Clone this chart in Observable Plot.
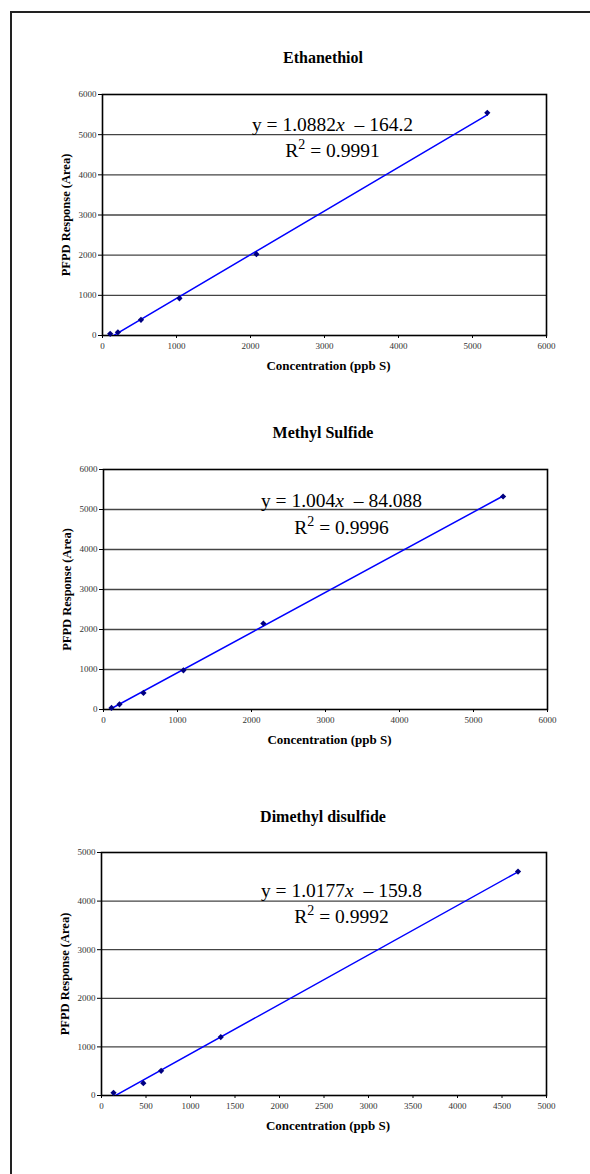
<!DOCTYPE html>
<html><head><meta charset="utf-8">
<script src="https://cdn.jsdelivr.net/npm/d3@7"></script>
<script src="https://cdn.jsdelivr.net/npm/@observablehq/plot@0.6"></script>
<style>
html,body{margin:0;padding:0;background:#fff;overflow:hidden;}
#page{position:relative;width:590px;height:1174px;overflow:hidden;background:#fff;}
#border{position:absolute;left:10px;top:11px;width:700px;height:1300px;border-left:2.5px solid #222;border-top:2.5px solid #222;}
.title{position:absolute;font-family:"Liberation Serif",serif;font-weight:bold;font-size:16px;transform:translate(-50%,-50%);white-space:nowrap;color:#000;}
.chart{position:absolute;left:0;}
</style></head><body><div id="page"><div id="border"></div></div>
<script>
// ---- data ----
const chartTitles = ["Ethanethiol", "Methyl Sulfide", "Dimethyl disulfide"];
const ethanethiolConc = [104, 208, 520, 1040, 2080, 5200];
const ethanethiolResp = [42, 80, 390, 925, 2025, 5545];
const methylSulfideConc = [108, 216, 540, 1080, 2160, 5400];
const methylSulfideResp = [40, 130, 415, 980, 2150, 5325];
const dimethylDisulfideConc = [135, 470, 670, 1340, 4680];
const dimethylDisulfideResp = [56, 254, 508, 1202, 4608];
const slopes = [1.0882, 1.004, 1.0177];
const intercepts = [-164.2, -84.088, -159.8];
const equationTexts = ["y = 1.0882x – 164.2", "y = 1.004x – 84.088", "y = 1.0177x – 159.8"];
const r2Texts = ["R2 = 0.9991", "R2 = 0.9996", "R2 = 0.9992"];
const ticks6000 = [0, 1000, 2000, 3000, 4000, 5000, 6000];
const xTicks5000 = [0, 500, 1000, 1500, 2000, 2500, 3000, 3500, 4000, 4500, 5000];
const yTicks5000 = [0, 1000, 2000, 3000, 4000, 5000];
const xAxisLabel = "Concentration (ppb S)";
const yAxisLabel = "PFPD Response (Area)";

const charts = [
  {title: chartTitles[0], conc: ethanethiolConc, resp: ethanethiolResp, slope: slopes[0], intercept: intercepts[0], eq: equationTexts[0], r2: r2Texts[0], xTicks: ticks6000, yTicks: ticks6000},
  {title: chartTitles[1], conc: methylSulfideConc, resp: methylSulfideResp, slope: slopes[1], intercept: intercepts[1], eq: equationTexts[1], r2: r2Texts[1], xTicks: ticks6000, yTicks: ticks6000},
  {title: chartTitles[2], conc: dimethylDisulfideConc, resp: dimethylDisulfideResp, slope: slopes[2], intercept: intercepts[2], eq: equationTexts[2], r2: r2Texts[2], xTicks: xTicks5000, yTicks: yTicks5000}
];

// ---- layout (pixels) ----
const layouts = [
  {top: 80, ml: 102, mr: 44, mt: 14, ph: 241, titleX: 323, titleY: 58, eqDx: 230, eqDy1: 36.7, eqDy2: 62.7},
  {top: 455, ml: 103, mr: 43, mt: 14, ph: 240, titleX: 323, titleY: 433, eqDx: 238, eqDy1: 37.7, eqDy2: 64},
  {top: 838, ml: 101, mr: 44, mt: 14, ph: 243, titleX: 323, titleY: 817, eqDx: 240, eqDy1: 44.4, eqDy2: 70.7}
];

const page = document.getElementById("page");
const SVGNS = "http://www.w3.org/2000/svg";

charts.forEach((c, i) => {
  const L = layouts[i];
  const mb = 45;
  const points = c.conc.map((x, j) => ({x, y: c.resp[j]}));
  const x0 = d3.min(c.conc), x1 = d3.max(c.conc);
  const trend = [{x: x0, y: c.slope * x0 + c.intercept}, {x: x1, y: c.slope * x1 + c.intercept}];
  const xMax = c.xTicks[c.xTicks.length - 1], yMax = c.yTicks[c.yTicks.length - 1];
  const svg = Plot.plot({
    width: 590,
    height: L.mt + L.ph + mb,
    marginLeft: L.ml, marginRight: L.mr, marginTop: L.mt, marginBottom: mb,
    x: {domain: [0, xMax]},
    y: {domain: [0, yMax]},
    style: {fontFamily: "Liberation Serif, serif", fontSize: "9px", background: "transparent", overflow: "visible", color: "#000"},
    marks: [
      Plot.gridY(c.yTicks.slice(1, -1), {stroke: "#444", strokeOpacity: 1, strokeWidth: 1.3}),
      Plot.frame({stroke: "#000", strokeWidth: 1.6}),
      Plot.axisX(c.xTicks, {tickSize: 3, tickPadding: 4, tickFormat: d3.format("d"), label: null, fill: "#333", stroke: "#000"}),
      Plot.axisY(c.yTicks, {tickSize: 4, tickPadding: 2, tickFormat: d3.format("d"), label: null, fill: "#333", stroke: "#000"}),
      Plot.line(trend, {x: "x", y: "y", stroke: "#0000ff", strokeWidth: 1.5, clip: true}),
      Plot.dot(points, {x: "x", y: "y", symbol: "diamond2", r: 2.8, fill: "#000080", stroke: "none"}),
      Plot.text([c.eq], {text: d => d, frameAnchor: "top-left", dx: L.eqDx, dy: L.eqDy1, lineAnchor: "bottom", textAnchor: "middle", fontSize: 19.5, fill: "#000"}),
      Plot.text([c.r2], {text: d => d, frameAnchor: "top-left", dx: L.eqDx, dy: L.eqDy2, lineAnchor: "bottom", textAnchor: "middle", fontSize: 19.5, fill: "#000"}),
      Plot.text([xAxisLabel], {text: d => d, frameAnchor: "bottom", dx: 4, dy: 30, lineAnchor: "middle", textAnchor: "middle", fontWeight: "bold", fontSize: 13, fill: "#000"}),
      Plot.text([yAxisLabel], {text: d => d, frameAnchor: "left", rotate: -90, dx: -37, lineAnchor: "middle", textAnchor: "middle", fontWeight: "bold", fontSize: 12.5, fill: "#000"})
    ]
  });
  // rich text: italic x in equation, superscript 2 in R²
  svg.querySelectorAll("text").forEach(t => {
    const s = t.textContent;
    if (s === c.eq) {
      const k = s.indexOf("x");
      while (t.firstChild) t.removeChild(t.firstChild);
      t.appendChild(document.createTextNode(s.slice(0, k)));
      const ts = document.createElementNS(SVGNS, "tspan");
      ts.setAttribute("font-style", "italic");
      ts.textContent = "x";
      t.appendChild(ts);
      t.appendChild(document.createTextNode("\u00a0" + s.slice(k + 1)));
    } else if (s === c.r2) {
      while (t.firstChild) t.removeChild(t.firstChild);
      t.appendChild(document.createTextNode(s.slice(0, 1)));
      const sup = document.createElementNS(SVGNS, "tspan");
      sup.setAttribute("dy", "-8");
      sup.setAttribute("font-size", "14");
      sup.textContent = s.slice(1, 2);
      t.appendChild(sup);
      const rest = document.createElementNS(SVGNS, "tspan");
      rest.setAttribute("dy", "8");
      rest.textContent = s.slice(2);
      t.appendChild(rest);
    }
  });
  const wrap = document.createElement("div");
  wrap.className = "chart";
  wrap.style.top = L.top + "px";
  wrap.appendChild(svg);
  page.appendChild(wrap);
  const title = document.createElement("div");
  title.className = "title";
  title.style.left = L.titleX + "px";
  title.style.top = L.titleY + "px";
  title.textContent = c.title;
  page.appendChild(title);
});
</script>
</body></html>
